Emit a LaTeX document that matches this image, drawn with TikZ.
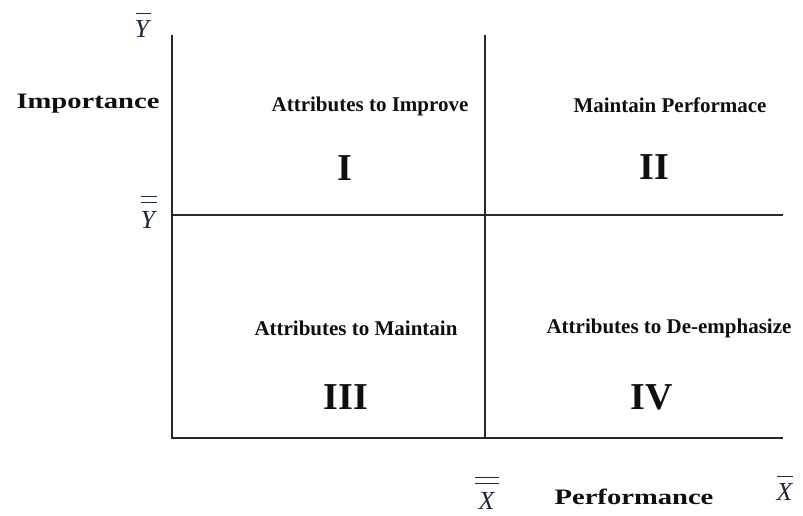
\documentclass[tikz,border=0pt]{standalone}
\usepackage{fontspec}
\setmainfont{Liberation Serif}
\usepackage{xcolor}
\usepackage{tikz}
\usetikzlibrary{positioning, calc}
\definecolor{axiscolor}{RGB}{40, 40, 40}
\definecolor{textcolor}{RGB}{15, 15, 15}
\definecolor{meancolor}{RGB}{30, 40, 60}
% mean and grand mean labels
\newcommand{\mybar}[2]{\shortstack{\rule{#2}{1pt}\\[3pt]\textit{#1}}}
\newcommand{\mydbar}[2]{\shortstack{\rule{#2}{1pt}\\[1.5pt]\rule{#2}{1pt}\\[5pt]\textit{#1}}}
\newcommand{\wide}[1]{\scalebox{1.3}[1]{#1}}

\begin{document}
\begin{tikzpicture}[x=1pt, y=-1pt, every node/.style={align=center, text=textcolor, inner sep=0pt},
    quadtext/.style={font=\fontsize{21}{24}\selectfont\bfseries},
    quadnum/.style={font=\fontsize{38}{42}\selectfont\bfseries},
    axistext/.style={font=\fontsize{22}{25}\selectfont\bfseries},
    meanlabel/.style={font=\fontsize{26}{28}\selectfont, text=meancolor, anchor=base}]
        % Canvas
        \useasboundingbox (0, 0) rectangle (803, 515);
        
        % Axes and quadrant lines
        \coordinate (top left) at (172, 35);
        \coordinate (bottom left) at (172, 438);
        \coordinate (top mid) at (485, 35);
        \coordinate (bottom mid) at (485, 438);
        \coordinate (mid left) at (172, 215);
        \coordinate (mid right) at (783, 215);
        \coordinate (bottom right) at (783, 438);
        \draw[line width=1.4pt, axiscolor] (top left) -- (bottom left) -- (bottom right);
        \draw[line width=1.4pt, axiscolor] (top mid) -- (bottom mid);
        \draw[line width=1.4pt, axiscolor] (mid left) -- (mid right);
        
        % Vertical axis labels
        \node[meanlabel] (ybar) at (143, 37) {\mybar{Y}{15pt}};
        \node[axistext] (importance) at (88, 104) {\wide{Importance}};
        \node[meanlabel] (ydbar) at (149, 228) {\mydbar{Y}{16pt}};
        
        % Quadrants
        \node[quadtext] (q1text) at (370, 106) {Attributes to Improve};
        \node[quadnum] (q1) at (345, 168) {I};
        \node[quadtext] (q2text) at (670, 105) {Maintain Performace};
        \node[quadnum] (q2) at (654, 167) {II};
        \node[quadtext] (q3text) at (356, 328) {Attributes to Maintain};
        \node[quadnum] (q3) at (346, 397) {III};
        \node[quadtext] (q4text) at (669, 328) {Attributes to De-emphasize};
        \node[quadnum] (q4) at (652, 397) {IV};
        
        % Horizontal axis labels
        \node[meanlabel] (xdbar) at (487, 509) {\mydbar{X}{24pt}};
        \node[axistext] (performance) at (634, 497) {\wide{Performance}};
        \node[meanlabel] (xbar) at (785, 500) {\mybar{X}{16pt}};
        
    \end{tikzpicture}
\end{document}
